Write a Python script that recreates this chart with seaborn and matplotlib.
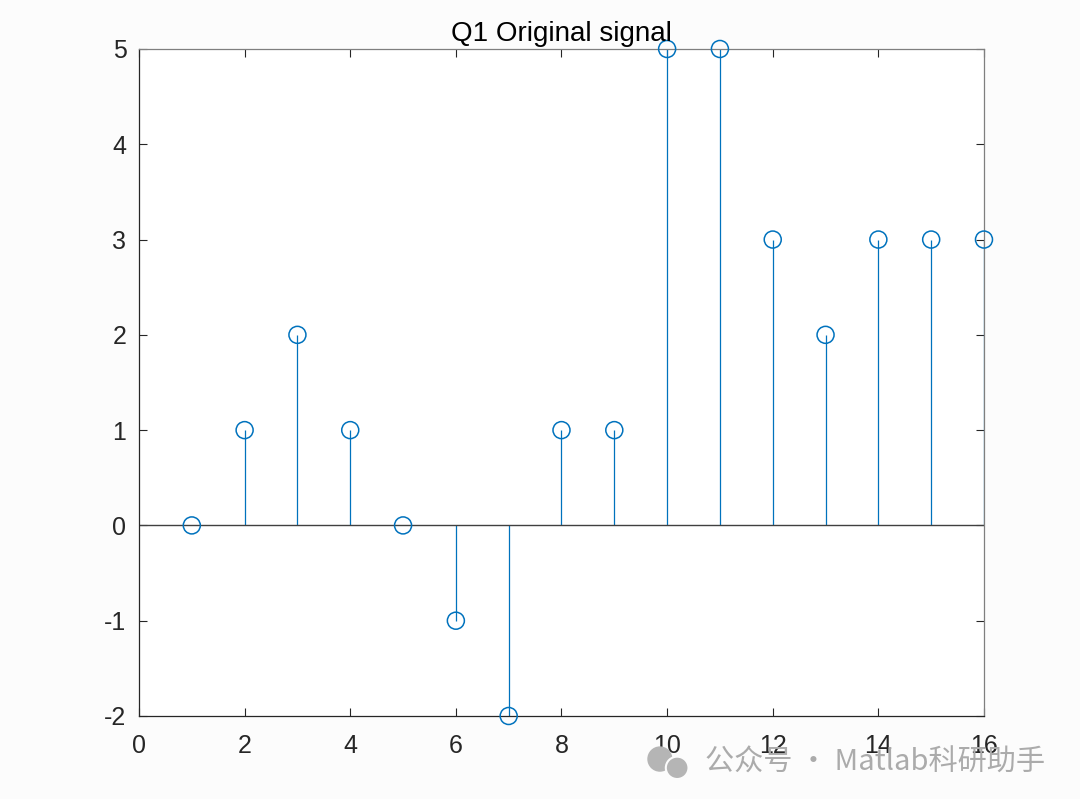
import numpy as np
import pandas as pd
import matplotlib
matplotlib.use("Agg")
import matplotlib.pyplot as plt
from matplotlib.patches import Ellipse
import seaborn as sns

# data
n = [1, 2, 3, 4, 5, 6, 7, 8, 9, 10, 11, 12, 13, 14, 15, 16]
x_vals = [0, 1, 2, 1, 0, -1, -2, 1, 1, 5, 5, 3, 2, 3, 3, 3]
x_ticks = [0, 2, 4, 6, 8, 10, 12, 14, 16]
y_ticks = [-2, -1, 0, 1, 2, 3, 4, 5]

df = pd.DataFrame({"n": n, "x": x_vals})

sns.set_theme(style="white")
plt.rcParams['font.family'] = ['Liberation Sans', 'DejaVu Sans']
plt.rcParams['axes.unicode_minus'] = False

blue = "#0072BD"
dark = "#262626"

fig = plt.figure(figsize=(10.8, 7.99), dpi=100, facecolor="#FCFCFC")
ax = fig.add_axes([0.1287, 0.1039, 0.7824, 0.8348])
ax.set_facecolor("white")

# stems + baseline
ax.vlines(df["n"], 0, df["x"], color=blue, lw=0.9, zorder=2)
ax.axhline(0, color="#404040", lw=1.0, zorder=2)
sns.scatterplot(data=df, x="n", y="x", ax=ax, marker="o", s=150,
                facecolor="none", edgecolor=blue, linewidth=1.1, zorder=3,
                clip_on=False)

ax.set_xlim(0, 16)
ax.set_ylim(-2, 5)
ax.set_xticks(x_ticks)
ax.set_yticks(y_ticks)
ax.set_xlabel("")
ax.set_ylabel("")
ax.tick_params(direction="in", length=6, width=0.8, colors=dark,
               labelsize=18, top=True, right=True, bottom=True, left=True,
               labelcolor=dark)
ax.tick_params(axis="x", pad=13)
ax.tick_params(axis="y", pad=9)
for side in ["left", "bottom"]:
    ax.spines[side].set_color(dark)
for side in ["top", "right"]:
    ax.spines[side].set_color("#7f7f7f")
for sp in ax.spines.values():
    sp.set_linewidth(0.9)

ax.set_title("Q1 Original signal", fontsize=20, color="black", pad=6)

# watermark (wechat-like icon + text)
fig.patches.append(Ellipse((0.611, 0.050), 0.022, 0.030, transform=fig.transFigure,
                           color="#B5B5B5", zorder=5))
fig.patches.append(Ellipse((0.627, 0.039), 0.021, 0.028, transform=fig.transFigure,
                           color="#B5B5B5", ec="#FCFCFC", lw=1.5, zorder=6))
fig.text(0.968, 0.045, "公众号 · Matlab科研助手", ha="right", va="center",
         fontsize=21, color="#ABABAB",
         family=['Noto Sans CJK SC', 'DejaVu Sans'])

fig.savefig("out.png", dpi=100, facecolor=fig.get_facecolor())
